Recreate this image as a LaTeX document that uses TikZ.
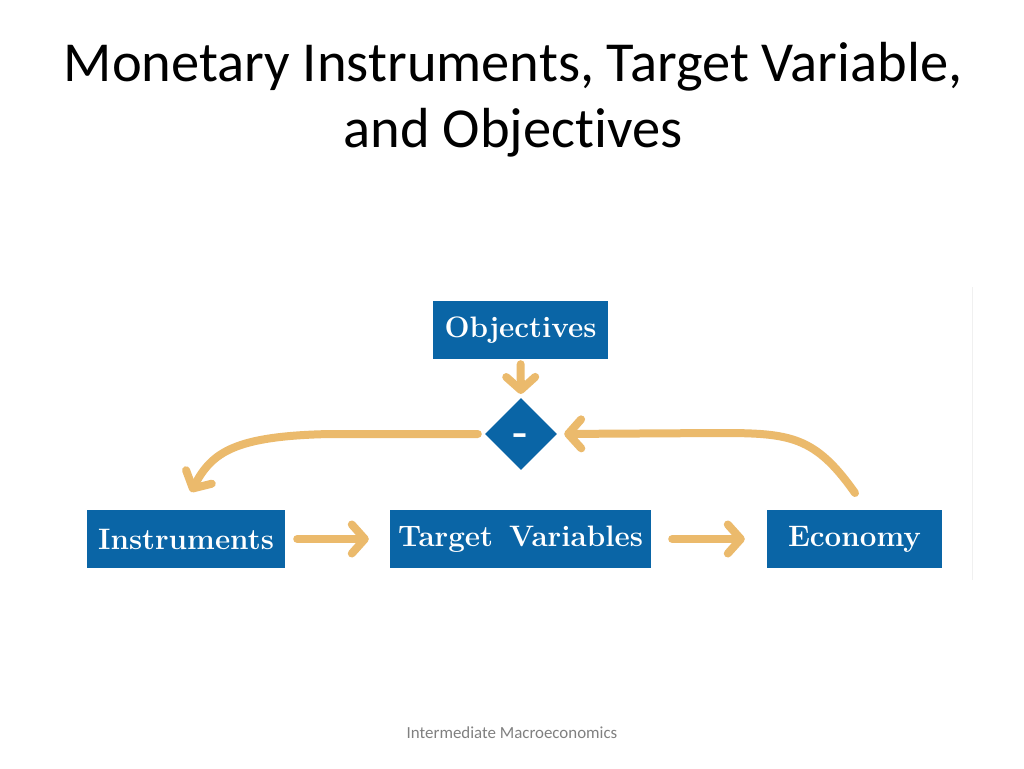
\documentclass[tikz,border=0pt]{standalone}
\usepackage{fontspec}
\newfontfamily\slidefont[Ligatures=NoCommon]{Carlito}
\usetikzlibrary{arrows.meta,shapes.geometric}
\definecolor{boxblue}{RGB}{10,101,166}
\definecolor{flowgold}{RGB}{235,186,108}
\begin{document}
\begin{tikzpicture}[x=1pt,y=-1pt,
    block/.style={fill=boxblue,text=white,inner sep=0pt,minimum height=58pt,
      font=\fontsize{29.6}{34}\selectfont\bfseries},
    compare/.style={diamond,fill=boxblue,text=white,inner sep=0pt,
      minimum width=72pt,minimum height=72pt,font=\fontsize{40}{40}\selectfont\bfseries},
    flow/.style={draw=flowgold,line width=8pt,line cap=round,line join=round,
      -{Straight Barb[length=13pt,width=29pt,line cap=round,line join=round]}}]
  \useasboundingbox[fill=white] (0,0) rectangle (1024,768);

  % title and footer
  \node[font=\slidefont\fontsize{56.5}{66}\selectfont,align=center] (title) at (513,100)
    {Monetary Instruments, Target Variable,\\and Objectives};
  \node[font=\slidefont\fontsize{16.9}{20}\selectfont,text=black!50] (footer) at (512,733)
    {Intermediate Macroeconomics};

  % edge of the pasted figure
  \draw[black!6,line width=0.8pt] (972,287) -- (972,580);

  \node[block,minimum width=175pt] (obj) at (520.5,330) {Objectives};
  \node[compare] (diff) at (521,434) {\smash{\raisebox{-10.5pt}{-}}};
  \node[block,minimum width=198pt] (instr) at (186,539) {Instruments};
  \node[block,minimum width=261pt] (target) at (520.5,539) {Target\, Variables};
  \node[block,minimum width=175pt] (econ) at (854.5,539) {Economy};

  \coordinate (back-in) at (191,492);
  \coordinate (back-out) at (855,493);

  \draw[flow,shorten <=5pt,shorten >=4pt] (obj) -- (diff);
  \draw[flow,shorten <=12pt,shorten >=21pt] (instr) -- (target);
  \draw[flow,shorten <=21pt,shorten >=22pt] (target) -- (econ);
  \draw[flow,shorten <=7pt] (diff.west) -- (330,434)
    .. controls (235,436) and (212,452) .. (back-in);
  \draw[flow,shorten >=7pt] (back-out) .. controls (815,436) and (790,433) .. (720,433)
    -- (diff.east);
\end{tikzpicture}
\end{document}
